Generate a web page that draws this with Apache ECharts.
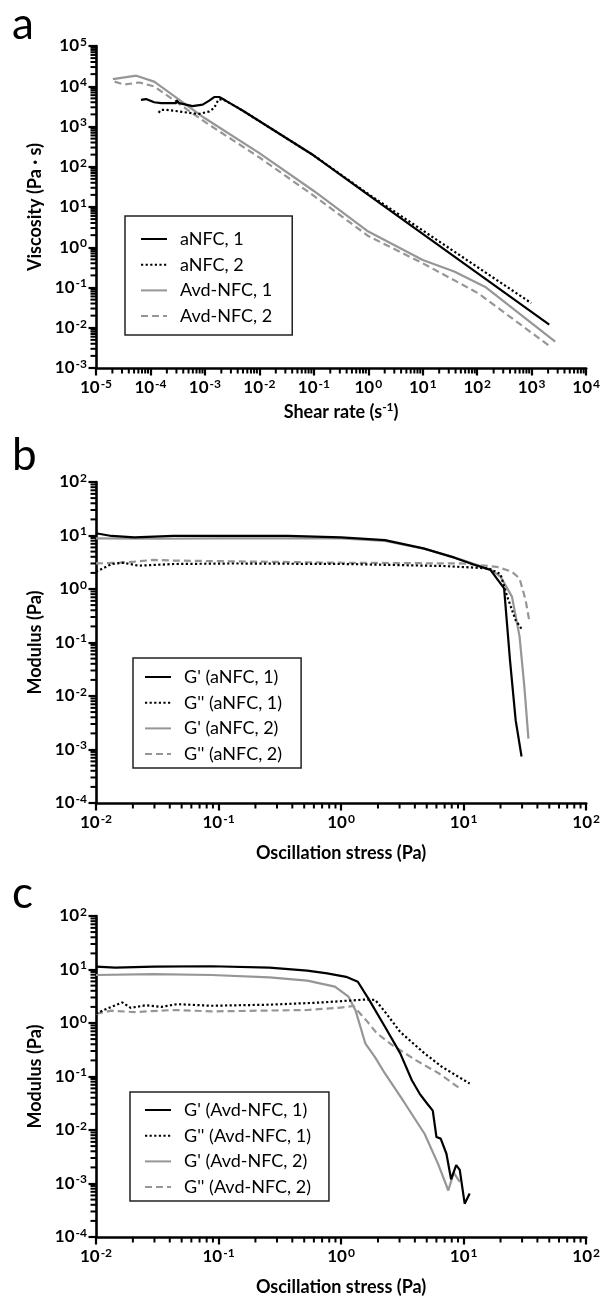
<!DOCTYPE html>
<html><head><meta charset="utf-8">
<script src="https://cdn.jsdelivr.net/npm/echarts@6/dist/echarts.min.js"></script>
<style>html,body{margin:0;padding:0;background:#fff}#c{width:603px;height:1298px}</style>
</head><body><div id="c"></div>
<script>
// ---------- Panel a: viscosity (Pa·s) vs shear rate (1/s) ----------
const aNFC1 = [[6.7e-5,4600],[8.3e-5,4800],[1.17e-4,4000],[1.57e-4,3800],[2.96e-4,3800],[3.0e-4,4500],[3.4e-4,3800],[5.9e-4,3200],[9.1e-4,3500],[1.2e-3,4400],[1.48e-3,5400],[1.83e-3,5400],[2.27e-3,4600],[3.2e-3,3500],[4.9e-3,2500],[0.1,190],[1,20],[2100,0.012]];
const aNFC2 = [[1.41e-4,2200],[1.57e-4,2600],[1.95e-4,2600],[3.4e-4,2360],[6.9e-4,2070],[7.9e-4,2070],[1.2e-3,2360],[1.48e-3,2900],[1.7e-3,4200],[1.83e-3,4800],[2.3e-3,4500],[3.2e-3,3500],[4.9e-3,2500],[0.1,190],[1,21],[980,0.041]];
const avdNFC1 = [[2.04e-5,15000],[5.5e-5,18300],[1.17e-4,13000],[1e-3,1600],[1e-2,218],[0.1,25],[1,2.45],[10,0.48],[37.7,0.25],[144,0.101],[2700,0.0045]];
const avdNFC2 = [[2.2e-5,13000],[3.3e-5,11000],[6.3e-5,12400],[1.17e-4,9900],[1e-3,1300],[1e-2,170],[0.1,19],[1,1.9],[10,0.40],[104,0.072],[2200,0.0034]];

// ---------- Panel b: modulus (Pa) vs oscillation stress (Pa), aNFC ----------
const bGp1  = [[0.01,11],[0.0134,9.8],[0.0206,9.25],[0.043,9.8],[0.37,9.8],[1,9.2],[2.28,8.2],[4.7,5.75],[8.4,3.85],[12.9,2.73],[16.6,2.26],[21.4,1.03],[23.9,0.047],[26.6,0.0035],[29.7,0.00074]];
const bGpp1 = [[0.01,2.1],[0.0134,2.93],[0.0166,3.1],[0.0222,2.73],[0.043,2.93],[0.126,3.0],[1.1,2.93],[6.8,2.69],[16,2.43],[20,1.9],[22.7,0.72],[26.6,0.26],[29.7,0.18]];
const bGp2  = [[0.01,8.85],[0.03,8.7],[0.1,8.8],[1,8.8],[2.28,7.9],[4.7,5.7],[8.4,3.9],[12.9,2.8],[16.6,2.3],[20,1.7],[24.8,0.72],[28.6,0.13],[31.3,0.015],[33.8,0.0016]];
const bGpp2 = [[0.01,3.0],[0.0157,3.1],[0.0206,3.25],[0.0296,3.5],[0.043,3.4],[0.2,3.25],[1,3.1],[9.7,3.0],[18.6,2.6],[24.8,2.1],[28.6,1.58],[32,0.63],[34.4,0.25]];

// ---------- Panel c: modulus (Pa) vs oscillation stress (Pa), Avd-NFC ----------
const cGp1  = [[0.01,11.3],[0.0144,10.8],[0.0296,11.3],[0.0877,11.5],[0.26,10.8],[0.53,9.5],[0.77,8.45],[1.1,7.3],[1.37,5.9],[1.7,2.68],[2.28,0.85],[3.04,0.27],[3.78,0.085],[4.37,0.048],[5.05,0.031],[5.6,0.023],[6.0,0.0074],[6.5,0.0069],[7.24,0.0036],[7.9,0.0012],[8.7,0.0022],[9.3,0.0018],[10.2,0.00042],[11.2,0.00065]];
const cGpp1 = [[0.01,1.5],[0.0124,1.87],[0.0164,2.42],[0.0192,1.92],[0.0256,2.15],[0.034,2.0],[0.046,2.25],[0.0877,2.1],[0.26,2.2],[0.65,2.4],[1.6,2.75],[1.9,2.7],[2.28,1.62],[3.04,0.68],[4.8,0.27],[6.7,0.15],[11.2,0.074]];
const cGp2  = [[0.01,7.9],[0.0296,8.2],[0.0877,7.9],[0.26,7.1],[0.53,6.2],[0.89,4.8],[1.15,3.1],[1.31,1.74],[1.58,0.41],[1.89,0.23],[2.28,0.114],[3.3,0.032],[4.8,0.0085],[6.2,0.0023],[7.5,0.00074],[8.3,0.0016],[9.3,0.00107]];
const cGpp2 = [[0.01,1.5],[0.0134,1.7],[0.0206,1.6],[0.043,1.75],[0.0877,1.65],[0.53,1.75],[0.95,1.92],[1.26,2.08],[1.6,1.13],[1.96,0.64],[2.6,0.39],[4.1,0.2],[6.3,0.114],[9.3,0.06]];

// Axis decade ranges (exponents of 10)
const aXRange = [-5, 4], aYRange = [-3, 5];
const bXRange = [-2, 2], bYRange = [-4, 2];
const cXRange = [-2, 2], cYRange = [-4, 2];

const namesA = ['aNFC, 1','aNFC, 2','Avd-NFC, 1','Avd-NFC, 2'];
const namesB = ["G' (aNFC, 1)","G'' (aNFC, 1)","G' (aNFC, 2)","G'' (aNFC, 2)"];
const namesC = ["G' (Avd-NFC, 1)","G'' (Avd-NFC, 1)","G' (Avd-NFC, 2)","G'' (Avd-NFC, 2)"];

const FONT = 'Lato';
const BLACK = '#000', GRAY = '#969696';

function minors(r){const o=[];for(let e=r[0];e<r[1];e++)for(let k=2;k<=9;k++)o.push(k*Math.pow(10,e));return o;}
function supLabel(v){const e=Math.round(Math.log10(v));return '{b|10}{s|'+e+'}';}
const labelRich = {
  b:{fontFamily:FONT,fontWeight:'bold',fontSize:17,lineHeight:20,color:'#000'},
  s:{fontFamily:FONT,fontWeight:'bold',fontSize:12,lineHeight:12,verticalAlign:'top',color:'#000',padding:[0,0,0,1]}
};
const nameRich = {
  t:{fontFamily:FONT,fontWeight:'bold',fontSize:18,lineHeight:22,color:'#000'},
  s:{fontFamily:FONT,fontWeight:'bold',fontSize:12,lineHeight:12,verticalAlign:'top',color:'#000'}
};

function mainAxis(gi, r, isX, name, gap){
  return {
    type:'log', logBase:10, gridIndex:gi, min:Math.pow(10,r[0]), max:Math.pow(10,r[1]),
    splitNumber:10,
    position:isX?'bottom':'left',
    axisLine:{show:true,onZero:false,lineStyle:{color:'#000',width:2.6}},
    axisTick:{show:true,inside:false,length:7.5,lineStyle:{color:'#000',width:2.2}},
    axisLabel:{show:true,interval:0,margin:isX?10:9,formatter:supLabel,rich:labelRich,hideOverlap:false,showMinLabel:true,showMaxLabel:true},
    splitLine:{show:false},
    name:name, nameLocation:'middle', nameGap:gap,
    nameTextStyle:{fontFamily:FONT,fontWeight:'bold',fontSize:18,color:'#000',rich:nameRich}
  };
}
function ser(name, data, gi, color, dash){
  return {type:'line', name:name, data:data, xAxisIndex:gi, yAxisIndex:gi,
    symbol:'none', showSymbol:false, smooth:false,
    lineStyle:{color:color,width:2.2,type:dash,cap:'butt'}, itemStyle:{color:color}};
}
// minor ticks (2..9 within each decade) drawn through the axis scale
function minorTicks(gi, r, otherMin, isX){
  const vals = minors(r).map(v => isX ? [v, otherMin] : [otherMin, v]);
  return {type:'custom', xAxisIndex:gi, yAxisIndex:gi, data:vals, silent:true, clip:false, z:20,
    renderItem:function(params, api){
      const p = api.coord([api.value(0), api.value(1)]);
      const sh = isX ? {x1:p[0],y1:p[1],x2:p[0],y2:p[1]+5.5} : {x1:p[0],y1:p[1],x2:p[0]-5.5,y2:p[1]};
      return {type:'line', shape:sh, style:{stroke:'#000', lineWidth:2}};
    }};
}
function legend(names, left, top, pad){
  return {data:names, orient:'vertical', left:left, top:top, padding:pad,
    itemWidth:26, itemHeight:14, itemGap:7.7, borderColor:'#222', borderWidth:1.5,
    backgroundColor:'#fff', selectedMode:false, itemStyle:{opacity:0},
    formatter:function(n){return '{t|'+n+'}';},
    textStyle:{rich:{t:{fontFamily:FONT,fontSize:18,lineHeight:20,color:'#000',padding:[0,0,0,8]}}}};
}
const DOT=[2.2,2.4], DASH=[7,4];

const option = {
  animation:false,
  backgroundColor:'#fff',
  grid:[
    {left:96, top:46, width:491, height:322},
    {left:96, top:482, width:491, height:321},
    {left:96, top:916, width:491, height:321}
  ],
  xAxis:[
    mainAxis(0,aXRange,true,'{t|Shear rate (s}{s|-1}{t|)}',33),
    mainAxis(1,bXRange,true,'Oscillation stress (Pa)',41),
    mainAxis(2,cXRange,true,'Oscillation stress (Pa)',41)
  ],
  yAxis:[
    mainAxis(0,aYRange,false,'Viscosity (Pa · s)',50),
    mainAxis(1,bYRange,false,'Modulus (Pa)',50),
    mainAxis(2,cYRange,false,'Modulus (Pa)',50)
  ],
  legend:[
    legend(namesA,125,216,[14,20,10,15]),
    legend(namesB,133,658,[10,19,5,11]),
    legend(namesC,130,1092,[9,18,5,14])
  ],
  graphic:[
    {type:'text',x:12,y:25,style:{text:'a',fontFamily:FONT,fontSize:44,fill:'#000',verticalAlign:'middle'}},
    {type:'text',x:12,y:456,style:{text:'b',fontFamily:FONT,fontSize:44,fill:'#000',verticalAlign:'middle'}},
    {type:'text',x:12,y:894,style:{text:'c',fontFamily:FONT,fontSize:44,fill:'#000',verticalAlign:'middle'}}
  ],
  series:[
    ser(namesA[2],avdNFC1,0,GRAY,'solid'),
    ser(namesA[3],avdNFC2,0,GRAY,DASH),
    ser(namesA[0],aNFC1,0,BLACK,'solid'),
    ser(namesA[1],aNFC2,0,BLACK,DOT),
    ser(namesB[2],bGp2,1,GRAY,'solid'),
    ser(namesB[3],bGpp2,1,GRAY,DASH),
    ser(namesB[0],bGp1,1,BLACK,'solid'),
    ser(namesB[1],bGpp1,1,BLACK,DOT),
    ser(namesC[2],cGp2,2,GRAY,'solid'),
    ser(namesC[3],cGpp2,2,GRAY,DASH),
    ser(namesC[0],cGp1,2,BLACK,'solid'),
    ser(namesC[1],cGpp1,2,BLACK,DOT),
    minorTicks(0,aXRange,Math.pow(10,aYRange[0]),true),
    minorTicks(0,aYRange,Math.pow(10,aXRange[0]),false),
    minorTicks(1,bXRange,Math.pow(10,bYRange[0]),true),
    minorTicks(1,bYRange,Math.pow(10,bXRange[0]),false),
    minorTicks(2,cXRange,Math.pow(10,cYRange[0]),true),
    minorTicks(2,cYRange,Math.pow(10,cXRange[0]),false)
  ]
};
const chart = echarts.init(document.getElementById('c'), null, {renderer:'canvas'});
chart.setOption(option);
</script>
</body></html>
